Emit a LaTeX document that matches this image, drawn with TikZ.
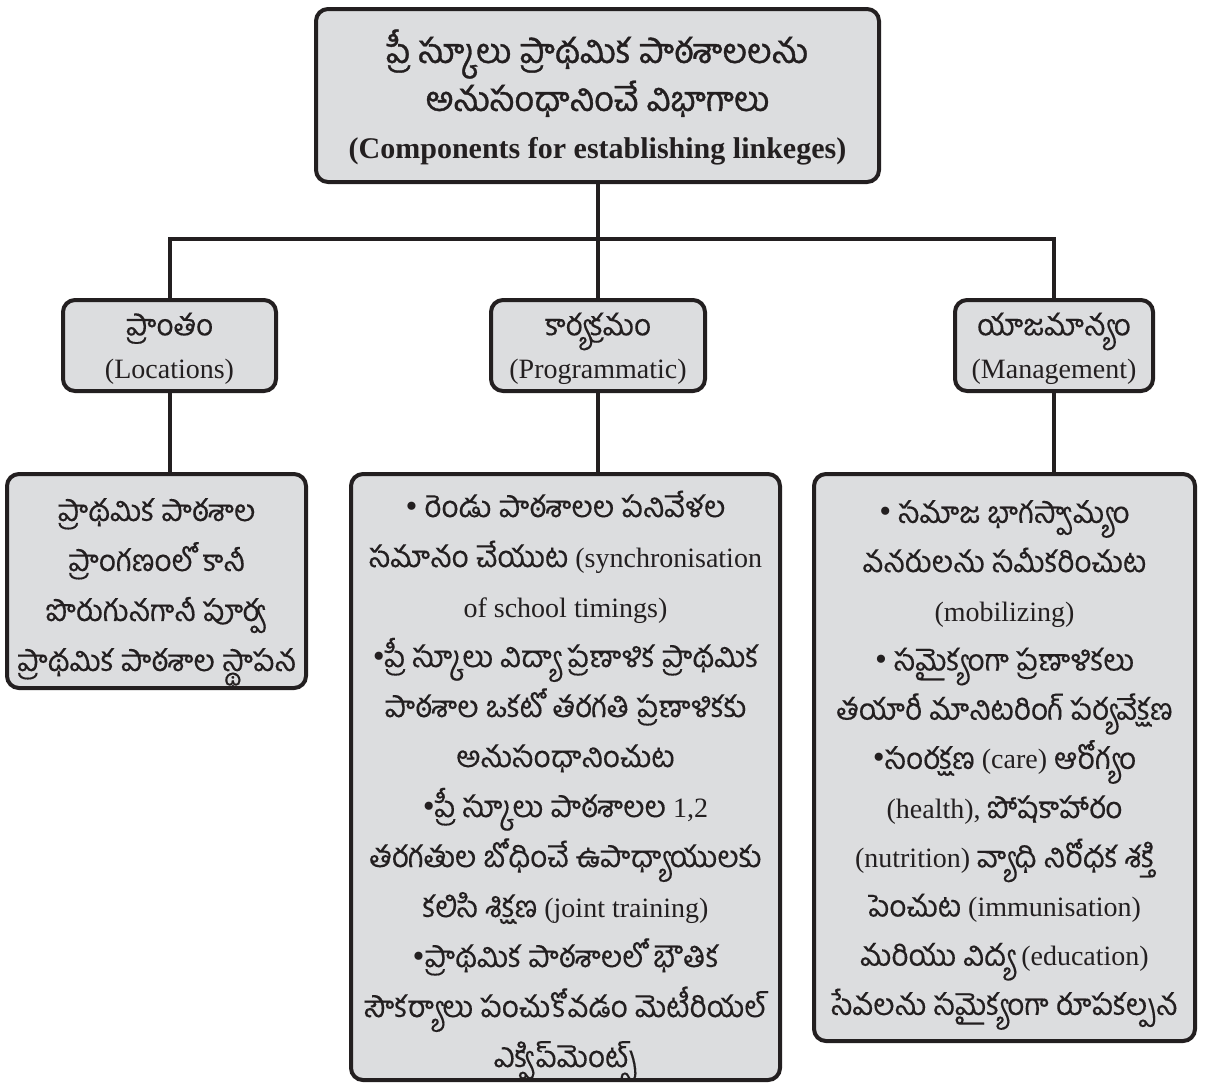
\documentclass[tikz,border=0pt]{standalone}
\usepackage{fontspec}
\setmainfont{Liberation Serif}
\newfontfamily\telfont[Script=Telugu,Scale=1.06,FakeBold=0.3]{Hind Guntur}
\newfontfamily\teltopfont[Script=Telugu,Scale=1.05,FakeBold=1.0]{Hind Guntur}
\newcommand\tel[1]{{\telfont #1}}
\newcommand\teltop[1]{{\teltopfont #1}}
\newcommand\bul{{\fontsize{34}{34}\selectfont •}}
\definecolor{boxfill}{HTML}{DCDDDF}
\definecolor{ink}{HTML}{231F20}
\begin{document}
\begin{tikzpicture}[x=1pt,y=-1pt,
  box/.style={draw=ink, fill=boxfill, line width=4pt, rounded corners=12pt,
    inner sep=0pt, anchor=center},
  txt/.style={inner sep=0pt, align=center, text=ink, anchor=center},
  conn/.style={draw=ink, line width=4pt},
  toptxt/.style={font=\fontsize{30}{48}\selectfont},
  midtxt/.style={font=\fontsize{28}{43}\selectfont},
  bodytxt/.style={font=\fontsize{28}{50}\selectfont},
  bodytxtr/.style={font=\fontsize{28}{49.2}\selectfont}]
\useasboundingbox (0,0) rectangle (1212,1088);

% boxes
\node[box, minimum width=563, minimum height=173] (top) at (597.5,95.5) {};
\node[box, minimum width=213, minimum height=91] (ml) at (169.5,345.5) {};
\node[box, minimum width=214, minimum height=91] (mc) at (598,345.5) {};
\node[box, minimum width=198, minimum height=91] (mr) at (1054,345.5) {};
\node[box, minimum width=299, minimum height=214] (bl) at (156.5,581) {};
\node[box, minimum width=429, minimum height=606] (bc) at (565.5,777) {};
\node[box, minimum width=381, minimum height=567] (br) at (1004.5,757.5) {};

% texts
\node[txt, toptxt] (toptext) at ([yshift=-2pt]top.center)
  {\teltop{\fontsize{32.5}{48}\selectfont ప్రీ స్కూలు ప్రాథమిక పాఠశాలలను}\\
   \teltop{\fontsize{32.5}{48}\selectfont అనుసంధానించే విభాగాలు}\\
   \textbf{(Components for establishing linkeges)}};

\node[txt, midtxt] (mltext) at ([yshift=-3pt]ml.center)
  {\tel{ప్రాంతం}\\(Locations)};
\node[txt, midtxt] (mctext) at ([yshift=-3pt]mc.center)
  {\tel{కార్యక్రమం}\\(Programmatic)};
\node[txt, midtxt] (mrtext) at ([yshift=-3pt]mr.center)
  {\tel{యాజమాన్యం}\\(Management)};

\node[txt, bodytxt] (bltext) at ([yshift=-13pt]bl.center)
  {\tel{ప్రాథమిక పాఠశాల}\\
   \tel{ప్రాంగణంలో కానీ}\\
   \tel{పొరుగునగానీ పూర్వ}\\
   \tel{ప్రాథమిక పాఠశాల స్థాపన}};

\node[txt, bodytxt] (bctext) at ([yshift=-9pt]bc.center)
  {\bul\ \tel{రెండు పాఠశాలల పనివేళల}\\
   \tel{సమానం చేయుట} (synchronisation\\
   of school timings)\\
   \bul\tel{ప్రీ స్కూలు విద్యా ప్రణాళిక ప్రాథమిక}\\
   \tel{పాఠశాల ఒకటో తరగతి ప్రణాళికకు}\\
   \tel{అనుసంధానించుట}\\
   \bul\tel{ప్రీ స్కూలు పాఠశాలల} 1,2\\
   \tel{తరగతుల బోధించే ఉపాధ్యాయులకు}\\
   \tel{కలిసి శిక్షణ} (joint training)\\
   \bul\tel{ప్రాథమిక పాఠశాలలో భౌతిక}\\
   \tel{సౌకర్యాలు పంచుకోవడం మెటీరియల్}\\
   \tel{ఎక్విప్‌మెంట్స్}};

\node[txt, bodytxtr] (brtext) at ([yshift=-7.5pt]br.center)
  {\bul\ \tel{సమాజ భాగస్వామ్యం}\\
   \tel{వనరులను సమీకరించుట}\\
   (mobilizing)\\
   \bul\ \tel{సమైక్యంగా ప్రణాళికలు}\\
   \tel{తయారీ మానిటరింగ్ పర్యవేక్షణ}\\
   \bul\tel{సంరక్షణ} (care) \tel{ఆరోగ్యం}\\
   (health), \tel{పోషకాహారం}\\
   (nutrition) \tel{వ్యాధి నిరోధక శక్తి}\\
   \tel{పెంచుట} (immunisation)\\
   \tel{మరియు విద్య} (education)\\
   \tel{సేవలను సమైక్యంగా రూపకల్పన}};

% connectors
\coordinate (bus) at (0,239);
\draw[conn] (top.south) -- (top.south |- bus);
\draw[conn] (ml.north) -- (ml.north |- bus) -- (mr.north |- bus) -- (mr.north);
\draw[conn] (mc.north) -- (mc.north |- bus);
\draw[conn] (ml.south) -- (ml.south |- bl.north);
\draw[conn] (mc.south) -- (mc.south |- bc.north);
\draw[conn] (mr.south) -- (mr.south |- br.north);
\end{tikzpicture}
\end{document}
